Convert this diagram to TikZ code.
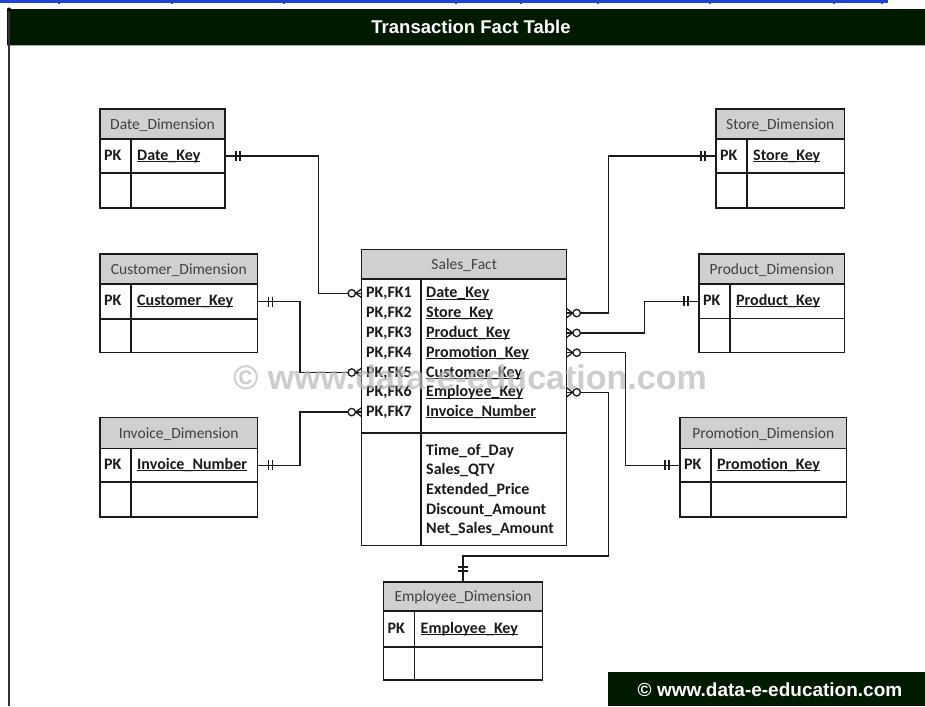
\documentclass[tikz,border=0pt]{standalone}
\usepackage{fontspec}
\setmainfont{Carlito}
\newfontfamily\arialf{Liberation Sans}
\usetikzlibrary{calc}
\definecolor{barbg}{HTML}{001A00}
\definecolor{hdrgray}{HTML}{D0D0D0}
\definecolor{hdrtxt}{HTML}{404040}
\definecolor{linecol}{HTML}{1A1A1A}
\definecolor{linkblue}{HTML}{2040D8}
\definecolor{wmgray}{HTML}{B8B8B8}
\tikzset{
  entline/.style={draw=linecol, line width=1.5pt},
  conn/.style={draw=linecol, line width=1.3pt},
  hdrtext/.style={font=\fontsize{15.5}{18}\selectfont, text=hdrtxt, inner sep=0pt, anchor=base},
  keytext/.style={font=\fontsize{16}{19}\selectfont\bfseries, text=linecol, inner sep=0pt, anchor=base west},
  bartext/.style={font=\arialf\bfseries\fontsize{18.5}{20}\selectfont, text=white, inner sep=0pt},
}
\newcommand\keyul[1]{\setbox0\hbox{#1}\rlap{\rule[-1.8pt]{\wd0}{1.1pt}}\box0}
% name,left,top,right,header bottom,row bottom,bottom,title
\newcommand\entity[8]{%
  \fill[hdrgray] (#2,#3) rectangle (#4,#5);
  \draw[entline] (#2,#3) rectangle (#4,#7);
  \draw[entline] (#2,#5) -- (#4,#5);
  \draw[entline] (#2,#6) -- (#4,#6);
  \draw[entline] ({#2+31},#5) -- ({#2+31},#7);
  \node[hdrtext] (#1-title) at ({(#2+#4)/2},{(#3+#5)/2+5}) {#8};
  \node[keytext] (#1-pk) at ({#2+4},{(#5+#6)/2+4}) {PK};
  \coordinate (#1-L) at (#2,{(#5+#6)/2});
  \coordinate (#1-R) at (#4,{(#5+#6)/2});
  \coordinate (#1-T) at ({(#2+#4)/2},#3);
  \coordinate (#1-K) at ({#2+37},{(#5+#6)/2+4});
}
\newcommand\zmany[2]{%
  \begin{scope}[shift={(#1)}, xscale=#2]
    \draw[conn] (0,-4.5) -- (6,0) -- (0,4.5);
    \draw[conn, fill=white] (10,0) circle[radius=3.7];
  \end{scope}}
\newcommand\oneonly[2]{%
  \begin{scope}[shift={(#1)}, xscale=#2]
    \draw[conn] (11,-5) -- (11,5);
    \draw[conn] (15,-5) -- (15,5);
  \end{scope}}
\begin{document}
\begin{tikzpicture}[x=1pt,y=-1pt]
\useasboundingbox (0,0) rectangle (925,706);
\fill[white] (0,0) rectangle (925,706);
% top link line
\draw[linkblue, line width=2.5pt] (0,1.5) -- (888,1.5);
\foreach \xx in {59,172,284,456,521,598,710,834,882}
  \draw[linkblue, line width=1.2pt] (\xx,0) -- (\xx,4);
% header bar
\fill[barbg] (7,9.5) rectangle (925,45);
\draw[gray!70, line width=0.8pt] (7,45) -- (925,45);
\node[bartext] (title) at (471,27) {Transaction Fact Table};
% left rule
\draw[gray!40!black, line width=2pt] (9,9) -- (9,706);
\fill[black] (9,9.5) circle[radius=2];

% entities
\entity{date}{100}{109}{225}{139}{173}{208}{Date\_Dimension}
\node[keytext] (date-key) at (date-K) {\keyul{Date\_Key}};
\entity{store}{716}{109}{844.5}{139}{173}{208}{Store\_Dimension}
\node[keytext] (store-key) at (store-K) {\keyul{Store\_Key}};
\entity{cust}{100}{254}{257.5}{284}{319}{352.5}{Customer\_Dimension}
\node[keytext] (cust-key) at (cust-K) {\keyul{Customer\_Key}};
\entity{prod}{699}{254}{844.5}{284}{318.5}{352.5}{Product\_Dimension}
\node[keytext] (prod-key) at (prod-K) {\keyul{Product\_Key}};
\entity{promo}{680}{417.5}{846.5}{448.5}{482}{517}{Promotion\_Dimension}
\node[keytext] (promo-key) at (promo-K) {\keyul{Promotion\_Key}};
\entity{inv}{100}{417.5}{257.5}{448.5}{482}{517}{Invoice\_Dimension}
\node[keytext] (inv-key) at (inv-K) {\keyul{Invoice\_Number}};
\entity{emp}{383.5}{582}{542.5}{611}{647}{680}{Employee\_Dimension}
\node[keytext] (emp-key) at (emp-K) {\keyul{Employee\_Key}};

% Sales_Fact
\fill[hdrgray] (361.7,249.3) rectangle (566.7,279);
\draw[entline] (361.7,249.3) rectangle (566.7,545.7);
\draw[entline] (361.7,279) -- (566.7,279);
\draw[entline] (361.7,433) -- (566.7,433);
\draw[entline] (421,279) -- (421,545.7);
\node[hdrtext] (sf-title) at (464.2,269) {Sales\_Fact};
\foreach \i/\k in {1/Date\_Key,2/Store\_Key,3/Product\_Key,4/Promotion\_Key,5/Customer\_Key,6/Employee\_Key,7/Invoice\_Number}{
  \pgfmathsetmacro\yc{293.3+19.8*(\i-1)}
  \node[keytext] (sf-pk\i) at (366,\yc+4.5) {PK,FK\i};
  \node[keytext] (sf-k\i) at (426,\yc+4.5) {\keyul{\k}};
  \coordinate (sf-L\i) at (361.7,\yc);
  \coordinate (sf-R\i) at (566.7,\yc);
}
\foreach \j/\a in {1/Time\_of\_Day,2/Sales\_QTY,3/Extended\_Price,4/Discount\_Amount,5/Net\_Sales\_Amount}{
  \pgfmathsetmacro\ya{450.7+19.6*(\j-1)}
  \node[keytext] (sf-a\j) at (426,\ya+4.5) {\a};
}

% junction coordinates
\coordinate (jD) at (318.7,0);
\coordinate (jC) at (300,0);
\coordinate (jS) at (608.5,0);
\coordinate (jP) at (644.3,0);
\coordinate (jM) at (625.7,0);
\coordinate (jE) at (608.3,556);
\coordinate (jE2) at (463,556);

% connectors
\draw[conn] (date-R) -| (jD |- sf-L1) -- (sf-L1);
\draw[conn] (cust-R) -| (jC |- sf-L5) -- (sf-L5);
\draw[conn] (inv-R) -| (jC |- sf-L7) -- (sf-L7);
\draw[conn] (sf-R2) -| (jS |- store-L) -- (store-L);
\draw[conn] (sf-R3) -| (jP |- prod-L) -- (prod-L);
\draw[conn] (sf-R4) -| (jM |- promo-L) -- (promo-L);
\draw[conn] (sf-R6) -| (jE) -- (jE2) -- (emp-T);

% cardinality symbols
\zmany{sf-L1}{-1}
\zmany{sf-L5}{-1}
\zmany{sf-L7}{-1}
\zmany{sf-R2}{1}
\zmany{sf-R3}{1}
\zmany{sf-R4}{1}
\zmany{sf-R6}{1}
\oneonly{date-R}{1}
\oneonly{cust-R}{1}
\oneonly{inv-R}{1}
\oneonly{store-L}{-1}
\oneonly{prod-L}{-1}
\oneonly{promo-L}{-1}
\draw[conn] ($(emp-T)+(-5,-11)$) -- ++(10,0);
\draw[conn] ($(emp-T)+(-5,-15)$) -- ++(10,0);

% watermark
\node[font=\arialf\bfseries\fontsize{34}{36}\selectfont, text=wmgray, opacity=0.7, inner sep=0pt] (wm) at (470,377) {© www.data-e-education.com};

% bottom credit bar
\fill[barbg] (608,672) rectangle (925,706);
\node[bartext, font=\arialf\bfseries\fontsize{19}{21}\selectfont] (credit) at (770,690) {© www.data-e-education.com};
\end{tikzpicture}
\end{document}
